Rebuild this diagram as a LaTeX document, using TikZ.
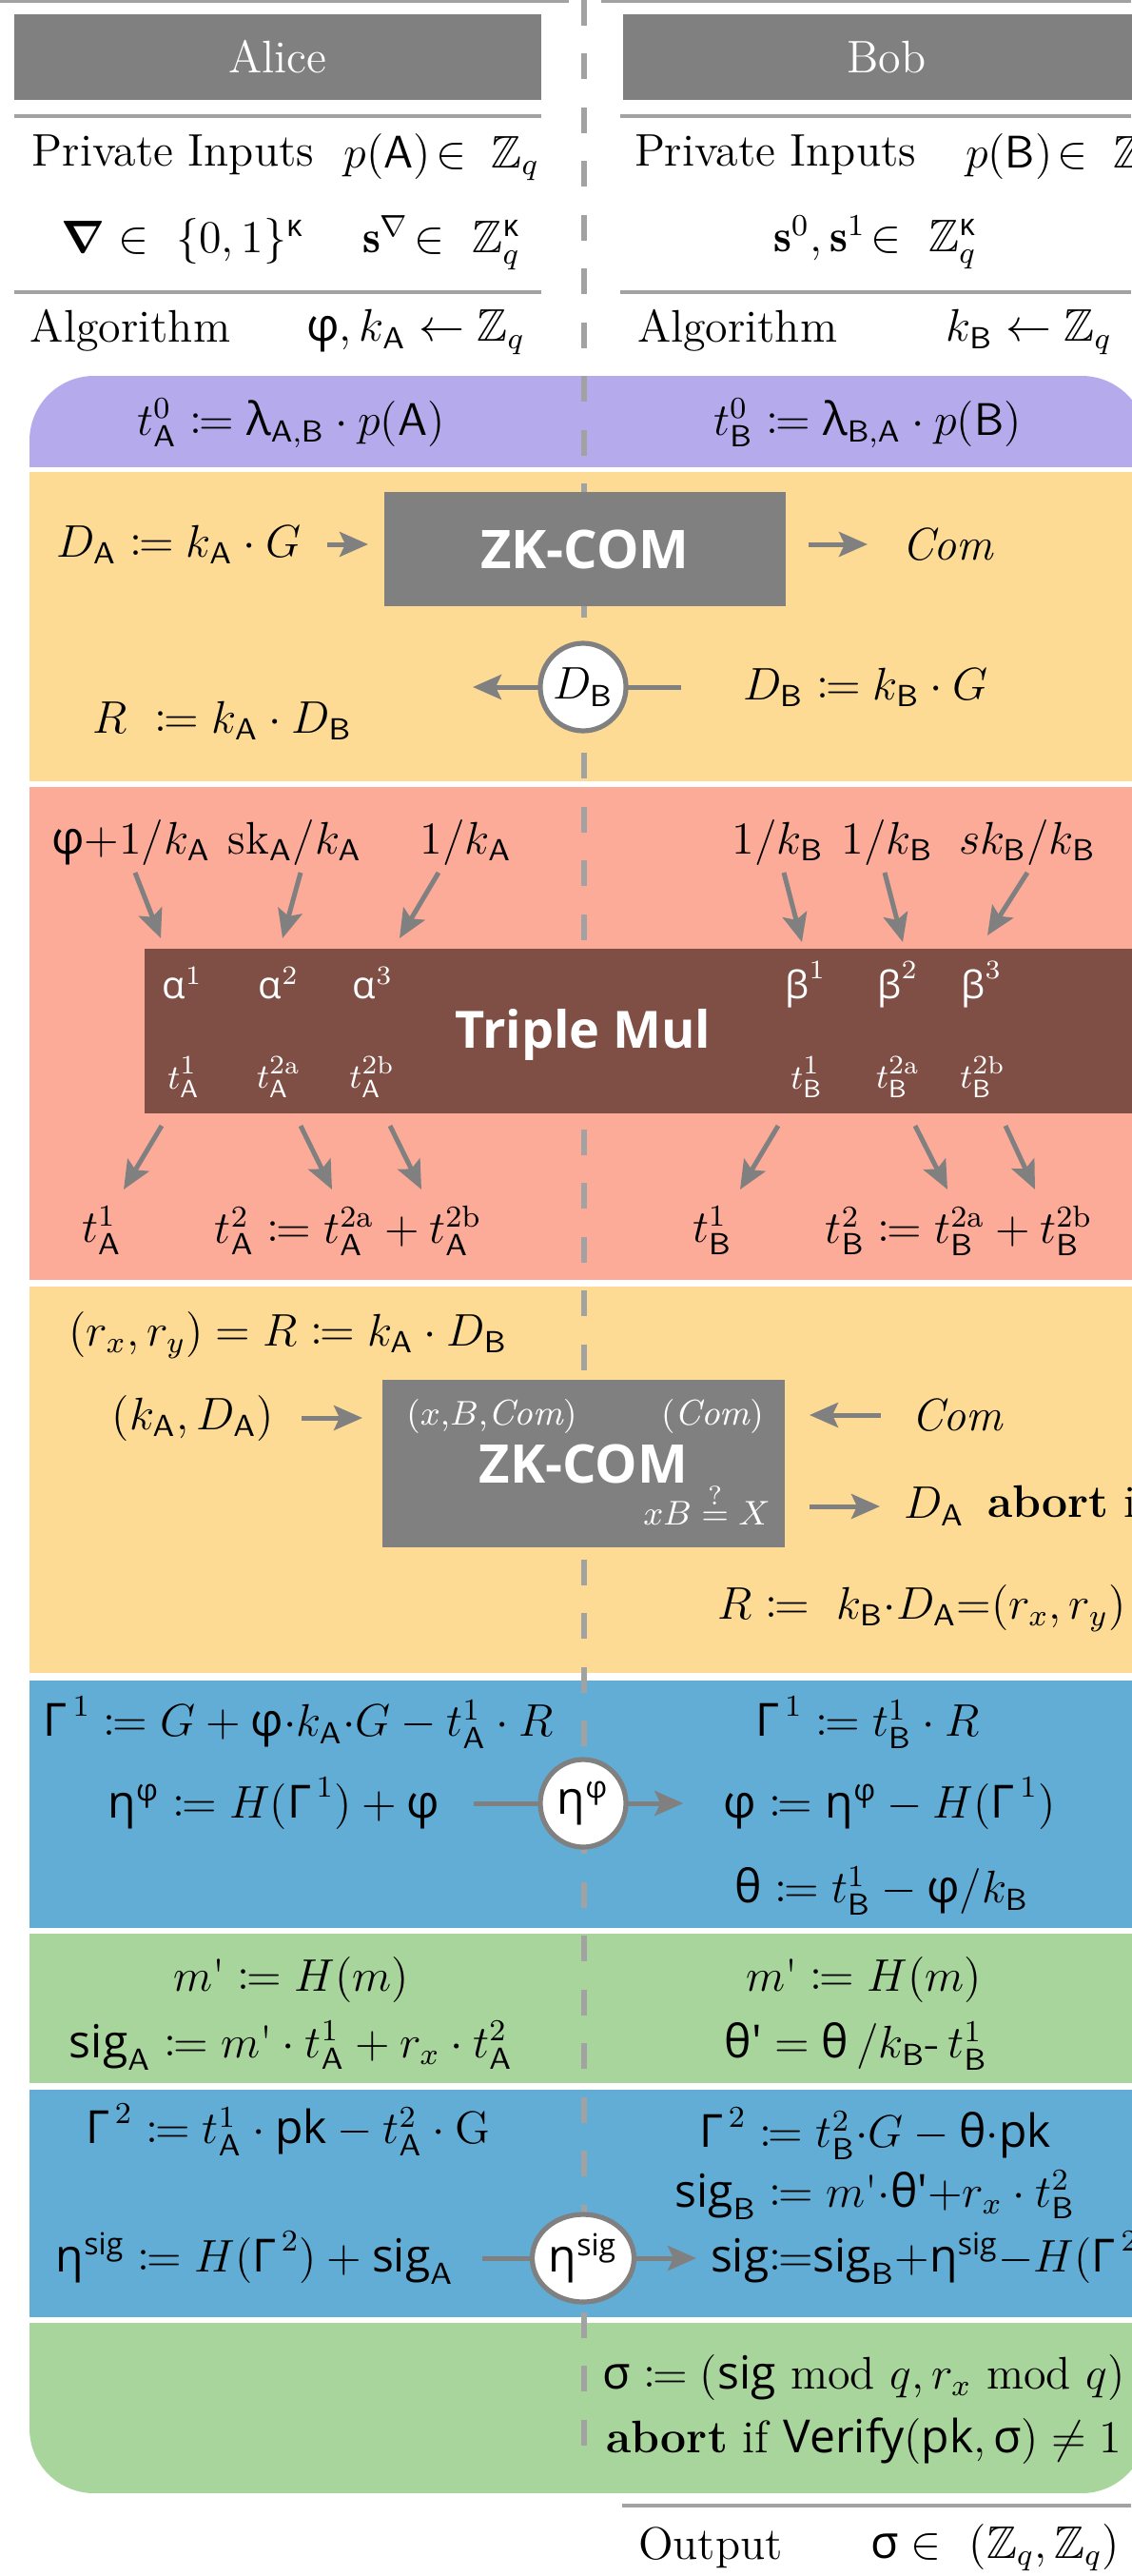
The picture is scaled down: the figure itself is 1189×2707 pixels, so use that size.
\documentclass[tikz,border=0pt]{standalone}
\usepackage{amsmath,amssymb,mathtools}
\usepackage{fontspec}
\newfontfamily\grk{Open Sans}
\usetikzlibrary{arrows.meta,shapes.geometric}
\definecolor{cpurple}{RGB}{180,170,236}
\definecolor{cyellow}{RGB}{253,219,149}
\definecolor{csalmon}{RGB}{251,171,152}
\definecolor{cblue}{RGB}{97,173,213}
\definecolor{cgreen}{RGB}{168,213,156}
\definecolor{cbrown}{RGB}{127,78,68}
\definecolor{cgray}{RGB}{128,128,128}
\definecolor{clight}{RGB}{162,162,162}
\newcommand\gk[1]{\text{\grk #1}}
\newcommand\sA{\mathsf{A}}
\newcommand\sB{\mathsf{B}}
\newcommand\mq{\text{\textquotesingle}}
\newcommand\mainfs{\fontsize{12}{14}\selectfont}
\newcommand\hdrfs{\fontsize{12}{14}\selectfont}
\newcommand\zkfs{\grk\bfseries\fontsize{14}{16}\selectfont}
\newcommand\tmfs{\grk\bfseries\fontsize{13.5}{16}\selectfont}
\newcommand\smfs{\fontsize{9.4}{11}\selectfont}
\newcommand\grkfs{\fontsize{10}{12}\selectfont}
\begin{document}
\begin{tikzpicture}[x=0.25pt,y=-0.25pt,
  every node/.style={inner sep=0pt,outer sep=0pt,font=\mainfs},
  arr/.style={draw=cgray,line width=1.25pt,-{Stealth[length=7.5pt,width=6.5pt,inset=1.5pt]}},
  hbox/.style={fill=cgray,text=white,minimum width=138.5pt,minimum height=22.5pt,font=\hdrfs},
  zkbox/.style={fill=cgray,text=white,font=\zkfs},
  bub/.style={ellipse,draw=cgray,fill=white,line width=1.3pt,minimum height=23pt},
  wl/.style={text=white,font=\smfs},
  wg/.style={text=white,font=\grkfs},
  rulebar/.style={fill=clight},
]
\useasboundingbox (0,0) rectangle (1189,2707);
% colour bands
\begin{scope}
\clip[rounded corners=17pt] (31,395) rectangle (1205,2620);
\fill[cpurple] (31,395) rectangle (1205,491);
\fill[cyellow] (31,496) rectangle (1205,821);
\fill[csalmon] (31,827) rectangle (1205,1345);
\fill[cyellow] (31,1352) rectangle (1205,1758);
\fill[cblue] (31,1766) rectangle (1205,2026);
\fill[cgreen] (31,2032) rectangle (1205,2189);
\fill[cblue] (31,2196) rectangle (1205,2435);
\fill[cgreen] (31,2441) rectangle (1205,2620);
\end{scope}
% rules
\fill[rulebar] (0,0) rectangle (598,3);
\fill[rulebar] (632,0) rectangle (1189,3);
\fill[rulebar] (15,120) rectangle (569,124);
\fill[rulebar] (652,120) rectangle (1189,124);
\fill[rulebar] (15,305) rectangle (569,309);
\fill[rulebar] (652,305) rectangle (1189,309);
\fill[rulebar] (654,2631) rectangle (1189,2635);
% dashed separator
\draw[clight,line width=1.3pt,dash pattern=on 6.75pt off 7.375pt] (614,0) -- (614,2570);
% header
\node[hbox] (alice) at (292,60) {Alice};
\node[hbox] (bob) at (932,60) {Bob};
\node[anchor=west] (piA) at (34,163) {Private Inputs};
\node[anchor=east] (pA) at (567,165) {$p(\sA)\!\in\;\mathbb{Z}_q$};
\node[anchor=west] (piB) at (667,163) {Private Inputs};
\node[anchor=west] (pB) at (1015,165) {$p(\sB)\!\in\;\mathbb{Z}_q$};
\node (nabA) at (306,255) {$\boldsymbol{\nabla}\in\ \{0,1\}^{\gk{κ}}\quad\; \mathbf{s}^{\nabla}\!\in\ \mathbb{Z}_q^{\gk{κ}}$};
\node (sB) at (920,255) {$\mathbf{s}^0,\mathbf{s}^1\!\in\ \mathbb{Z}_q^{\gk{κ}}$};
\node[anchor=west] (algA) at (32,347) {Algorithm};
\node[anchor=east] (kA) at (552,349) {$\gk{φ}, k_{\sA}\leftarrow\mathbb{Z}_q$};
\node[anchor=west] (algB) at (670,347) {Algorithm};
\node[anchor=east] (kB) at (1169,349) {$k_{\sB}\leftarrow\mathbb{Z}_q$};
% purple
\node (t0A) at (306,445) {$t^0_{\sA}\coloneqq \gk{λ}_{\sA,\sB}\cdot p(\sA)$};
\node (t0B) at (912,445) {$t^0_{\sB}\coloneqq \gk{λ}_{\sB,\sA}\cdot p(\sB)$};
% yellow 1
\node[zkbox,minimum width=105.5pt,minimum height=30pt] (zk1) at (615,577) {ZK-COM};
\node (DA) at (188,572) {$D_{\sA}\coloneqq k_{\sA}\cdot G$};
\node (com1) at (996,572) {$\mathit{Com}$};
\draw[arr,shorten <=6.75pt,shorten >=4.25pt] (DA.east) -- (DA.east -| zk1.west);
\draw[arr,shorten <=6pt,shorten >=9pt] (com1.west -| zk1.east) -- (com1.west);
\node (DBdef) at (910,722) {$D_{\sB}\coloneqq k_{\sB}\cdot G$};
\coordinate (dbtip) at (497,722);
\draw[arr,shorten <=16.25pt] (DBdef.west) -- (dbtip);
\node[bub,minimum width=21.75pt] (DB) at (613,722) {$D_{\sB}$};
\node (RA) at (234,757) {$R\ \coloneqq k_{\sA}\cdot D_{\sB}$};
% salmon: Triple Mul
\node (L1) at (138,885) {$\gk{φ}{+}1/k_{\sA}$};
\node (L2) at (310,885) {$\mathrm{sk}_{\sA}/k_{\sA}$};
\node (L3) at (490,885) {$1/k_{\sA}$};
\node (L4) at (818,885) {$1/k_{\sB}$};
\node (L5) at (933,885) {$1/k_{\sB}$};
\node (L6) at (1080,885) {$sk_{\sB}/k_{\sB}$};
\node[fill=cbrown,minimum width=263.25pt,minimum height=43.25pt] (tm) at (678.5,1083.5) {};
\node[text=white,font=\tmfs] (tmlab) at (613,1087) {Triple Mul};
\node[wg] (a1) at (192,1033) {$\gk{α}^{1}$};
\node[wg] (a2) at (293,1033) {$\gk{α}^{2}$};
\node[wg] (a3) at (392,1033) {$\gk{α}^{3}$};
\node[wg] (b1) at (847,1035) {$\gk{β}^{1}$};
\node[wg] (b2) at (944,1035) {$\gk{β}^{2}$};
\node[wg] (b3) at (1032,1035) {$\gk{β}^{3}$};
\node[wl] (ta1) at (193,1132) {$t^{1}_{\sA}$};
\node[wl] (ta2) at (293,1132) {$t^{2\mathrm{a}}_{\sA}$};
\node[wl] (ta3) at (391,1132) {$t^{2\mathrm{b}}_{\sA}$};
\node[wl] (tb1) at (848,1132) {$t^{1}_{\sB}$};
\node[wl] (tb2) at (944,1132) {$t^{2\mathrm{a}}_{\sB}$};
\node[wl] (tb3) at (1033,1132) {$t^{2\mathrm{b}}_{\sB}$};
\coordinate (u1s) at (142,917);  \coordinate (u1e) at (169,986);
\coordinate (u2s) at (316,917);  \coordinate (u2e) at (297,986);
\coordinate (u3s) at (461,917);  \coordinate (u3e) at (420,986);
\coordinate (u4s) at (824,917);  \coordinate (u4e) at (843,990);
\coordinate (u5s) at (930,917);  \coordinate (u5e) at (949,990);
\coordinate (u6s) at (1080,917); \coordinate (u6e) at (1038,983);
\draw[arr] (u1s) -- (u1e);
\draw[arr] (u2s) -- (u2e);
\draw[arr] (u3s) -- (u3e);
\draw[arr] (u4s) -- (u4e);
\draw[arr] (u5s) -- (u5e);
\draw[arr] (u6s) -- (u6e);
\coordinate (d1s) at (170,1183);  \coordinate (d1e) at (130,1250);
\coordinate (d2s) at (316,1183);  \coordinate (d2e) at (349,1250);
\coordinate (d3s) at (410,1183);  \coordinate (d3e) at (443,1250);
\coordinate (d4s) at (818,1183);  \coordinate (d4e) at (778,1250);
\coordinate (d5s) at (962,1183);  \coordinate (d5e) at (996,1250);
\coordinate (d6s) at (1057,1183); \coordinate (d6e) at (1088,1250);
\draw[arr] (d1s) -- (d1e);
\draw[arr] (d2s) -- (d2e);
\draw[arr] (d3s) -- (d3e);
\draw[arr] (d4s) -- (d4e);
\draw[arr] (d5s) -- (d5e);
\draw[arr] (d6s) -- (d6e);
\node (B1) at (107,1293) {$t^1_{\sA}$};
\node (B2) at (366,1293) {$t^2_{\sA}\coloneqq t^{2\mathrm{a}}_{\sA}+t^{2\mathrm{b}}_{\sA}$};
\node (B3) at (749,1293) {$t^1_{\sB}$};
\node (B4) at (1008,1293) {$t^2_{\sB}\coloneqq t^{2\mathrm{a}}_{\sB}+t^{2\mathrm{b}}_{\sB}$};
% yellow 2
\node (rr) at (303,1403) {$(r_x,r_y)=R\coloneqq k_{\sA}\cdot D_{\sB}$};
\node[zkbox,minimum width=105.75pt,minimum height=44pt] (zk2) at (613.5,1538) {ZK-COM};
\node[wl] (in1) at (517,1488) {$(x{,}B{,}\mathit{Com})$};
\node[wl] (in2) at (749,1488) {$(\mathit{Com})$};
\node[wl] (in3) at (743,1580) {$xB\stackrel{?}{=}X$};
\node (kD) at (203,1490) {$(k_{\sA},D_{\sA})$};
\node (com2) at (1006,1487) {$\mathit{Com}$};
\node[anchor=west] (DA2) at (950,1583) {$D_{\sA}$};
\node[anchor=west] (ab1) at (1038,1578) {\textbf{abort} if};
\draw[arr,shorten <=7.25pt,shorten >=5.25pt] (kD.east) -- (kD.east -| zk2.west);
\draw[arr,shorten <=8pt,shorten >=6.5pt] (com2.west) -- (com2.west -| zk2.east);
\draw[arr,shorten <=6.5pt,shorten >=6.25pt] (DA2.west -| zk2.east) -- (DA2.west);
\node (RB) at (969,1690) {$R\coloneqq\ k_{\sB}{\cdot}D_{\sA}{=}(r_x,r_y)$};
% blue 1
\node (g1A) at (314,1810) {$\gk{Γ}^{\,1}\coloneqq G+\gk{φ}{\cdot}k_{\sA}{\cdot}G-t^1_{\sA}\cdot R$};
\node (g1B) at (912,1810) {$\gk{Γ}^{\,1}\coloneqq t^1_{\sB}\cdot R$};
\node (etaA) at (288,1895) {$\gk{η}^{\gk{φ}}\coloneqq H(\gk{Γ}^{\,1})+\gk{φ}$};
\node (phiB) at (935,1895) {$\gk{φ}\coloneqq\gk{η}^{\gk{φ}}-H(\gk{Γ}^{\,1})$};
\draw[arr,shorten <=9pt,shorten >=10.5pt] (etaA.east) -- (phiB.west);
\node[bub,minimum width=22.5pt] (etaphi) at (613,1895) {$\gk{η}^{\gk{φ}}$};
\node (thB) at (927,1987) {$\gk{θ}\coloneqq t^1_{\sB}-\gk{φ}/k_{\sB}$};
% green 1
\node (mA) at (306,2080) {$m\mq\coloneqq H(m)$};
\node (mB) at (908,2080) {$m\mq\coloneqq H(m)$};
\node (sigA) at (306,2150) {$\gk{sig}_{\sA}\coloneqq m\mq\cdot t^1_{\sA}+r_x\cdot t^2_{\sA}$};
\node (thp) at (900,2150) {$\gk{θ'} = \gk{θ}\,/k_{\sB}\text{-}\,t^1_{\sB}$};
% blue 2
\node (g2A) at (303,2238) {$\gk{Γ}^{\,2}\coloneqq t^1_{\sA}\cdot\gk{pk}-t^2_{\sA}\cdot\mathrm{G}$};
\node (g2B) at (920,2242) {$\gk{Γ}^{\,2}\coloneqq t^2_{\sB}{\cdot}G-\gk{θ}{\cdot}\gk{pk}$};
\node (sigBd) at (920,2307) {$\gk{sig}_{\sB}\coloneqq m\mq{\cdot}\gk{θ'}{+}r_x\cdot t^2_{\sB}$};
\node (etsA) at (268,2373) {$\gk{η}^{\gk{sig}}\coloneqq H(\gk{Γ}^{\,2})+\gk{sig}_{\sA}$};
\node[anchor=west] (sigB) at (747,2373) {$\gk{sig}{\coloneqq}\gk{sig}_{\sB}{+}\gk{η}^{\gk{sig}}{-}H(\gk{Γ}^{\,2})$};
\draw[arr,shorten <=7.5pt,shorten >=3.75pt] (etsA.east) -- (sigB.west);
\node[bub,minimum width=26.75pt] (etasig) at (613,2373) {$\gk{η}^{\gk{sig}}$};
% green 2
\node (sig) at (908,2498) {$\gk{σ}\coloneqq(\gk{sig}\ \mathrm{mod}\ q,r_x\ \mathrm{mod}\ q)$};
\node (ver) at (908,2565) {\textbf{abort} if $\gk{Verify}(\gk{pk},\gk{σ})\neq 1$};
% output
\node (outl) at (747,2677) {Output};
\node (outv) at (1046,2677) {$\gk{σ}\in\ (\mathbb{Z}_q,\mathbb{Z}_q)$};
\end{tikzpicture}
\end{document}
